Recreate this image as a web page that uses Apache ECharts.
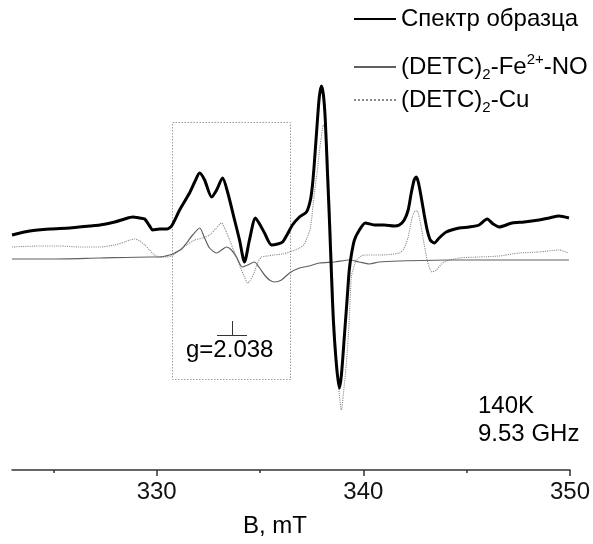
<!DOCTYPE html>
<html>
<head>
<meta charset="utf-8">
<script src="https://cdn.jsdelivr.net/npm/echarts@6/dist/echarts.min.js"></script>
<style>
html,body{margin:0;padding:0;background:#fff;}
#chart{width:593px;height:544px;}
</style>
</head>
<body>
<div id="chart"></div>
<script>
// Magnetic field B, mT and intensity (arb. units)
var sampleB = [323.00,323.86,324.83,325.80,326.76,327.25,327.97,328.45,328.84,329.18,329.42,329.66,329.81,330.14,330.48,330.72,331.11,331.59,331.84,332.08,332.32,332.66,332.90,333.19,333.43,333.77,334.01,334.25,334.49,334.78,334.98,335.22,335.56,335.85,336.09,336.33,336.57,336.91,337.25,337.44,337.54,337.63,337.78,337.87,337.97,338.07,338.16,338.26,338.36,338.45,338.55,338.70,338.84,338.94,339.08,339.23,339.32,339.42,339.57,339.81,340.10,340.53,341.01,341.50,341.74,341.98,342.17,342.32,342.46,342.56,342.66,342.80,342.95,343.09,343.24,343.43,343.67,344.01,344.64,345.12,345.60,345.99,346.28,346.57,347.20,347.78,348.50,348.99,349.47,349.95];
var sampleI = [235,239,241,242,244,245,248,251,253,252,251,244,240,241,241,244,260,277,288,297,290,273,280,292,278,250,230,208,230,252,246,237,225,226,228,236,245,253,258,270,285,307,350,373,384,375,350,300,250,200,150,105,82,95,133,175,200,215,230,240,247,245,245,244,245,250,260,277,290,293,288,273,255,240,230,227,232,238,242,243,245,251,246,243,247,248,250,252,254,252];

var feB = [323.00,324.83,327.25,329.66,330.14,330.63,330.87,331.21,331.45,331.74,332.08,332.32,332.56,332.90,333.14,333.38,333.62,333.86,334.15,334.40,334.73,334.98,335.22,335.46,335.70,336.04,336.43,336.91,337.39,337.87,338.60,339.32,339.81,340.29,340.77,341.74,344.15,346.57,349.95];
var feI = [211,211,212,213,213,215,217,221,227,235,242,232,222,217,220,223,220,213,203,205,208,202,195,190,188,190,197,202,204,207,208,210,208,206,208,209,210,210,210];

var cuB = [323.00,324.35,325.31,326.28,327.25,327.97,328.45,328.70,328.94,329.18,329.42,329.66,329.90,330.14,330.39,330.72,331.11,331.45,331.84,332.22,332.56,332.85,333.14,333.33,333.53,333.72,333.86,334.06,334.25,334.40,334.54,334.73,334.88,335.07,335.36,335.70,336.09,336.43,336.91,337.15,337.29,337.44,337.58,337.68,337.78,337.87,337.97,338.07,338.16,338.26,338.41,338.50,338.60,338.74,338.84,338.94,339.03,339.18,339.32,339.42,339.57,339.66,340.05,340.77,341.74,341.98,342.17,342.37,342.51,342.61,342.71,342.80,342.95,343.09,343.24,343.33,343.53,343.91,344.64,345.60,346.57,347.54,348.50,349.47,349.81,349.95];
var cuI = [223,224,224,223,223,225,228,230,231,229,225,220,215,213,213,214,220,225,230,232,235,241,247,240,230,220,213,202,193,187,190,198,207,213,214,215,216,218,222,226,233,242,267,285,300,318,333,345,340,320,250,200,150,100,75,60,75,107,150,193,205,210,215,215,217,222,233,253,259,259,252,243,225,210,200,198,200,208,212,213,214,217,218,220,218,217];

var majorTicks = [330, 340, 350];
var minorTicks = [325, 335, 345];
var seriesNames = ['Спектр образца', '(DETC)2-Fe2+-NO', '(DETC)2-Cu'];

function pairs(xs, ys) { return xs.map(function (x, i) { return [x, ys[i]]; }); }

var FONT = '"Liberation Sans", Arial, Helvetica, sans-serif';
var FS = 24;
var chart = echarts.init(document.getElementById('chart'), null, {renderer: 'canvas'});

var richStyles = {
  n: {fontSize: FS, fontFamily: FONT, color: '#000', lineHeight: 30, verticalAlign: 'middle'},
  sub: {fontSize: 15, fontFamily: FONT, color: '#000', lineHeight: 14, verticalAlign: 'bottom'},
  sup: {fontSize: 15, fontFamily: FONT, color: '#000', lineHeight: 14, verticalAlign: 'top'}
};

function legendFormatter(name) {
  if (name === seriesNames[1]) return '{n|(DETC)}{sub|2}{n|-Fe}{sup|2+}{n|-NO}';
  if (name === seriesNames[2]) return '{n|(DETC)}{sub|2}{n|-Cu}';
  return '{n|' + name + '}';
}
function makeLegend(name, top) {
  return {
    orient: 'vertical', left: 353, top: top, padding: 0, itemWidth: 42, itemHeight: 14,
    data: [name], itemStyle: {opacity: 0}, formatter: legendFormatter, selectedMode: false,
    textStyle: {fontSize: FS, fontFamily: FONT, color: '#000', rich: richStyles}
  };
}

var option = {
  backgroundColor: '#fff',
  animation: false,
  grid: {left: 12, right: 22, top: 0, bottom: 74, containLabel: false},
  xAxis: [{
    type: 'value', min: 323, max: 350,
    axisLine: {show: true, onZero: false, lineStyle: {color: '#333', width: 1.5}},
    axisTick: {show: true, inside: false, length: 6, customValues: majorTicks, lineStyle: {color: '#333', width: 1.5}},
    axisLabel: {show: true, customValues: majorTicks, margin: 10, fontSize: FS, fontFamily: FONT, color: '#111'},
    splitLine: {show: false}
  }, {
    type: 'value', min: 323, max: 350, position: 'bottom',
    axisLine: {show: false, onZero: false},
    axisTick: {show: true, inside: false, length: 3, customValues: minorTicks, lineStyle: {color: '#333', width: 1.5}},
    axisLabel: {show: false},
    splitLine: {show: false}
  }],
  yAxis: {type: 'value', min: 0, max: 470, show: false},
  legend: [
    makeLegend(seriesNames[0], 7),
    makeLegend(seriesNames[1], 52),
    makeLegend(seriesNames[2], 88)
  ],
  series: [{
    name: seriesNames[2], type: 'line', xAxisIndex: 0, data: pairs(cuB, cuI),
    showSymbol: false, symbol: 'none', smooth: 0.25,
    lineStyle: {color: '#8a8a8a', width: 1.1, type: 'dotted'},
    itemStyle: {color: '#8a8a8a'}, z: 2
  }, {
    name: seriesNames[1], type: 'line', xAxisIndex: 0, data: pairs(feB, feI),
    showSymbol: false, symbol: 'none', smooth: 0.25,
    lineStyle: {color: '#606060', width: 1.2},
    itemStyle: {color: '#606060'}, z: 3
  }, {
    name: seriesNames[0], type: 'line', xAxisIndex: 0, data: pairs(sampleB, sampleI),
    showSymbol: false, symbol: 'none', smooth: 0.25,
    lineStyle: {color: '#000', width: 3},
    itemStyle: {color: '#000'}, z: 4
  }],
  graphic: [
    {type: 'rect', shape: {x: 172.5, y: 122.5, width: 118, height: 257}, style: {fill: 'none', stroke: '#9a9a9a', lineWidth: 1, lineDash: [1.5, 1.5]}, z: 1},
    {type: 'line', shape: {x1: 217, y1: 335.5, x2: 247, y2: 335.5}, style: {stroke: '#333', lineWidth: 1}},
    {type: 'line', shape: {x1: 232.5, y1: 321, x2: 232.5, y2: 335.5}, style: {stroke: '#333', lineWidth: 1}},
    {type: 'text', left: 186, top: 338, style: {text: 'g=2.038', font: FS + 'px ' + FONT, fill: '#000'}},
    {type: 'text', left: 478, top: 394, style: {text: '140K', font: FS + 'px ' + FONT, fill: '#000'}},
    {type: 'text', left: 478, top: 422, style: {text: '9.53 GHz', font: FS + 'px ' + FONT, fill: '#000'}},
    {type: 'text', left: 243, top: 514, style: {text: 'B, mT', font: FS + 'px ' + FONT, fill: '#000'}}
  ]
};
chart.setOption(option);
</script>
</body>
</html>
